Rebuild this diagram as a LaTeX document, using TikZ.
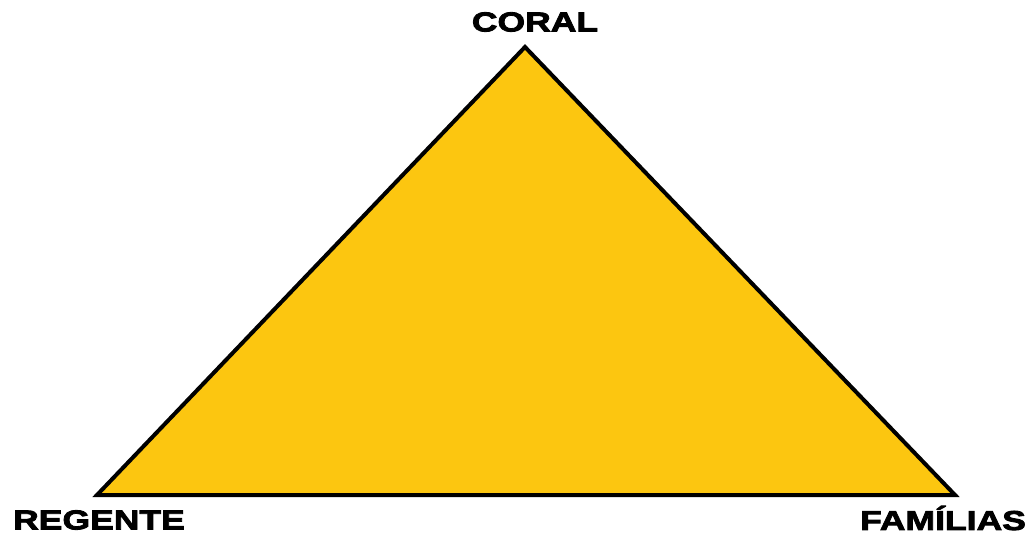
\documentclass[tikz,border=0pt]{standalone}
\usepackage{fontspec}
\setmainfont{Liberation Sans}
\newfontfamily\labelfont[FakeStretch=1.3,FakeBold=3]{Liberation Sans Bold}
\usepackage{tikz}
\definecolor{coralyellow}{RGB}{252,198,16}
\tikzset{
  cornerlabel/.style={font=\labelfont\fontsize{20.5}{22}\selectfont,inner sep=0pt,anchor=center},
  triangleline/.style={draw=black,line width=3pt,line join=miter,fill=coralyellow},
}
\begin{document}
\begin{tikzpicture}[x=0.75pt,y=-0.75pt]
  \useasboundingbox (0,0) rectangle (1036,536);
  % vertices
  \coordinate (top) at (525,47);
  \coordinate (left) at (97,495);
  \coordinate (right) at (955,495);
  \path[triangleline] (top) -- (left) -- (right) -- cycle;
  % labels
  \node[cornerlabel] (coral) at (535,22) {CORAL};
  \node[cornerlabel] (regente) at (99,520) {REGENTE};
  \node[cornerlabel] (familias) at (943,518) {FAMÍLIAS};
\end{tikzpicture}
\end{document}
